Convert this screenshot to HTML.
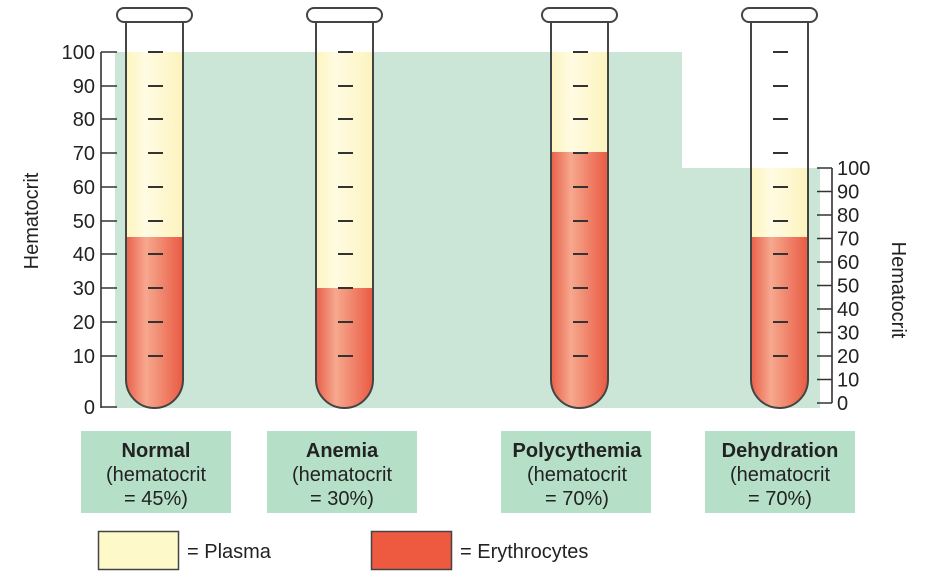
<!DOCTYPE html>
<html><head><meta charset="utf-8"><style>
html,body{margin:0;padding:0;background:#fff;}
svg{display:block;font-family:"Liberation Sans",Arial,sans-serif;}
</style></head><body>
<svg width="930" height="585" viewBox="0 0 930 585" xmlns="http://www.w3.org/2000/svg">
<defs>
<linearGradient id="red" x1="0" x2="1" y1="0" y2="0">
<stop offset="0" stop-color="#e9604a"/><stop offset="0.35" stop-color="#f6a88e"/><stop offset="1" stop-color="#e95a42"/>
</linearGradient>
<linearGradient id="pl" x1="0" x2="1" y1="0" y2="0">
<stop offset="0" stop-color="#fdf5bf"/><stop offset="0.35" stop-color="#fffbe2"/><stop offset="1" stop-color="#fcf3bd"/>
</linearGradient>
<clipPath id="c1"><path d="M126,22V379.5A28.5,28.5 0 0 0 183,379.5V22Z"/></clipPath>
<clipPath id="c2"><path d="M316,22V379.5A28.5,28.5 0 0 0 373,379.5V22Z"/></clipPath>
<clipPath id="c3"><path d="M551,22V379.5A28.5,28.5 0 0 0 608,379.5V22Z"/></clipPath>
<clipPath id="c4"><path d="M751,22V379.5A28.5,28.5 0 0 0 808,379.5V22Z"/></clipPath>
</defs>
<path d="M115,52H682V168H820V408H115Z" fill="#cbe6d7"/>
<rect x="751" y="22" width="57" height="30" fill="#fff"/>
<g clip-path="url(#c1)"><rect x="126" y="22" width="57" height="30" fill="#fff"/><rect x="126" y="52" width="57" height="185" fill="url(#pl)"/><rect x="126" y="237" width="57" height="180" fill="url(#red)"/></g>
<g clip-path="url(#c2)"><rect x="316" y="22" width="57" height="30" fill="#fff"/><rect x="316" y="52" width="57" height="236" fill="url(#pl)"/><rect x="316" y="288" width="57" height="130" fill="url(#red)"/></g>
<g clip-path="url(#c3)"><rect x="551" y="22" width="57" height="30" fill="#fff"/><rect x="551" y="52" width="57" height="100" fill="url(#pl)"/><rect x="551" y="152" width="57" height="266" fill="url(#red)"/></g>
<g clip-path="url(#c4)"><rect x="751" y="22" width="57" height="146" fill="#fff"/><rect x="751" y="168" width="57" height="69" fill="url(#pl)"/><rect x="751" y="237" width="57" height="181" fill="url(#red)"/></g>
<g fill="none" stroke="#444" stroke-width="2">
<path d="M126,22V379.5A28.5,28.5 0 0 0 183,379.5V22"/>
<path d="M316,22V379.5A28.5,28.5 0 0 0 373,379.5V22"/>
<path d="M551,22V379.5A28.5,28.5 0 0 0 608,379.5V22"/>
<path d="M751,22V379.5A28.5,28.5 0 0 0 808,379.5V22"/>
</g>
<g fill="#fff" stroke="#444" stroke-width="2">
<rect x="117" y="8" width="75" height="14" rx="7"/>
<rect x="307" y="8" width="75" height="14" rx="7"/>
<rect x="542" y="8" width="75" height="14" rx="7"/>
<rect x="742" y="8" width="75" height="14" rx="7"/>
</g>
<g stroke="#333" stroke-width="2">
<path d="M148,52h15M148,86h15M148,119h15M148,153h15M148,187h15M148,221h15M148,254h15M148,288h15M148,322h15M148,356h15"/>
<path d="M338,52h15M338,86h15M338,119h15M338,153h15M338,187h15M338,221h15M338,254h15M338,288h15M338,322h15M338,356h15"/>
<path d="M573,52h15M573,86h15M573,119h15M573,153h15M573,187h15M573,221h15M573,254h15M573,288h15M573,322h15M573,356h15"/>
<path d="M773,52h15M773,86h15M773,119h15M773,153h15M773,187h15M773,221h15M773,254h15M773,288h15M773,322h15M773,356h15"/>
</g>
<g stroke="#333" stroke-width="1.6" fill="none">
<path d="M101,52V408M101,52h16M101,86h16M101,119h16M101,153h16M101,187h16M101,221h16M101,254h16M101,288h16M101,322h16M101,356h16M101,407h16"/>
<path d="M832,168V403M817,168h15M817,191.5h15M817,215h15M817,238.5h15M817,262h15M817,285.5h15M817,309h15M817,332.5h15M817,356h15M817,379.5h15M817,403h15"/>
</g>
<g font-size="20" fill="#222" text-anchor="end">
<text x="95" y="59">100</text><text x="95" y="93">90</text><text x="95" y="126">80</text><text x="95" y="160">70</text><text x="95" y="194">60</text><text x="95" y="228">50</text><text x="95" y="261">40</text><text x="95" y="295">30</text><text x="95" y="329">20</text><text x="95" y="363">10</text><text x="95" y="414">0</text>
</g>
<g font-size="20" fill="#222">
<text x="837" y="175">100</text><text x="837" y="198.5">90</text><text x="837" y="222">80</text><text x="837" y="245.5">70</text><text x="837" y="269">60</text><text x="837" y="292.5">50</text><text x="837" y="316">40</text><text x="837" y="339.5">30</text><text x="837" y="363">20</text><text x="837" y="386.5">10</text><text x="837" y="410">0</text>
</g>
<text font-size="20" fill="#222" text-anchor="middle" transform="translate(38,221) rotate(-90)">Hematocrit</text>
<text font-size="20" fill="#222" text-anchor="middle" transform="translate(892,290) rotate(90)">Hematocrit</text>
<g fill="#b6dfc7">
<rect x="81" y="431" width="150" height="82"/>
<rect x="267" y="431" width="150" height="82"/>
<rect x="501" y="431" width="150" height="82"/>
<rect x="705" y="431" width="150" height="82"/>
</g>
<g font-size="20" fill="#222" text-anchor="middle">
<text x="156" y="457" font-weight="bold">Normal</text><text x="156" y="481">(hematocrit</text><text x="156" y="505">= 45%)</text>
<text x="342" y="457" font-weight="bold">Anemia</text><text x="342" y="481">(hematocrit</text><text x="342" y="505">= 30%)</text>
<text x="577" y="457" font-weight="bold">Polycythemia</text><text x="577" y="481">(hematocrit</text><text x="577" y="505">= 70%)</text>
<text x="780" y="457" font-weight="bold">Dehydration</text><text x="780" y="481">(hematocrit</text><text x="780" y="505">= 70%)</text>
</g>
<rect x="98.5" y="531.5" width="80" height="38" fill="#fef9c8" stroke="#444" stroke-width="1.5"/>
<rect x="371.5" y="531.5" width="80" height="38" fill="#ee5a40" stroke="#444" stroke-width="1.5"/>
<g font-size="20" fill="#222">
<text x="187" y="558">= Plasma</text>
<text x="460" y="558">= Erythrocytes</text>
</g>
</svg>
</body></html>
